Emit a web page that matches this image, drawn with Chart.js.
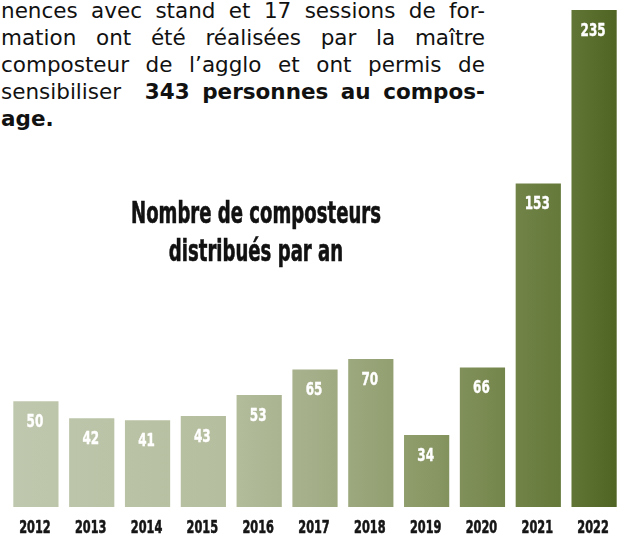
<!DOCTYPE html>
<html>
<head>
<meta charset="utf-8">
<script src="https://cdn.jsdelivr.net/npm/chart.js@4/dist/chart.umd.min.js"></script>
<style>
  html, body { margin:0; padding:0; background:#fff; }
  body { width:619px; height:537px; position:relative; overflow:hidden; }
  #wrap { position:absolute; left:0; top:0; width:625px; height:537px; }
  .para { position:absolute; left:1px; width:484px; font-family:"DejaVu Sans", Verdana, sans-serif; font-size:21.5px; line-height:27px; color:#111; text-align:justify; text-align-last:justify; white-space:nowrap; }
  .title { position:absolute; left:56px; width:400px; text-align:center; font-family:"DejaVu Sans Condensed","Liberation Sans Narrow",sans-serif; font-weight:bold; font-size:30px; line-height:34px; color:#111; transform:scaleX(0.67); transform-origin:50% 50%; -webkit-text-stroke:0.6px #111; }
</style>
</head>
<body>
<div class="para" style="top:-3px">nences avec stand et 17 sessions de for-</div>
<div class="para" style="top:24px">mation ont été réalisées par la maître</div>
<div class="para" style="top:51px">composteur de l’agglo et ont permis de</div>
<div class="para" style="top:78px">sensibiliser &nbsp;<b>343 personnes au compos-</b></div>
<div class="para" style="top:105px; text-align-last:left"><b>age.</b></div>
<div id="wrap"><canvas id="c" width="625" height="537"></canvas></div>
<div class="title" style="top:196px">Nombre de composteurs</div>
<div class="title" style="top:234px">distribués par an</div>
<script>
const years = ["2012","2013","2014","2015","2016","2017","2018","2019","2020","2021","2022"];
const composteurs = [50, 42, 41, 43, 53, 65, 70, 34, 66, 153, 235];

const gradientStops = [
  [0.00, "#bfc8ae"],
  [0.35, "#b5be9e"],
  [0.50, "#a4ae88"],
  [0.65, "#8f9d6c"],
  [0.80, "#76874d"],
  [0.90, "#65793a"],
  [1.00, "#4d6120"]
];
const condFont = '"DejaVu Sans Condensed","Liberation Sans Narrow",sans-serif';

let cachedGrad = null, cachedKey = "";
function barGradient(ctx) {
  const chart = ctx.chart;
  const area = chart.chartArea;
  if (!area) return gradientStops[0][1];
  const key = area.left + "-" + area.right;
  if (!cachedGrad || key !== cachedKey) {
    const g = chart.ctx.createLinearGradient(area.left, 0, area.right, 0);
    gradientStops.forEach(s => g.addColorStop(s[0], s[1]));
    cachedGrad = g; cachedKey = key;
  }
  return cachedGrad;
}

function condensedText(ctx, text, x, y, sx, stroke) {
  ctx.save();
  ctx.translate(x, y);
  ctx.scale(sx, 1);
  if (stroke) { ctx.lineWidth = stroke; ctx.strokeStyle = ctx.fillStyle; ctx.lineJoin = "round"; ctx.strokeText(text, 0, 0); }
  ctx.fillText(text, 0, 0);
  ctx.restore();
}

const labelsPlugin = {
  id: "labelsPlugin",
  afterDatasetsDraw(chart) {
    const ctx = chart.ctx;
    const meta = chart.getDatasetMeta(0);
    const xScale = chart.scales.x;
    ctx.save();
    ctx.textAlign = "center";
    ctx.textBaseline = "middle";
    // values inside bars
    ctx.fillStyle = "#ffffff";
    ctx.font = "bold 18px " + condFont;
    meta.data.forEach((bar, i) => {
      condensedText(ctx, String(chart.data.datasets[0].data[i]), bar.x - 1, bar.y + 21, 0.74, 0.4);
    });
    // category labels under the axis
    ctx.fillStyle = "#151515";
    ctx.font = "bold 18.5px " + condFont;
    chart.data.labels.forEach((lab, i) => {
      const x = xScale.getPixelForValue(i);
      condensedText(ctx, lab, x - 1, chart.chartArea.bottom + 21, 0.68, 0.6);
    });
    ctx.restore();
  }
};

new Chart(document.getElementById("c"), {
  type: "bar",
  data: {
    labels: years,
    datasets: [{
      data: composteurs,
      backgroundColor: barGradient,
      borderWidth: 0,
      barPercentage: 0.81,
      categoryPercentage: 1.0
    }]
  },
  options: {
    responsive: false,
    animation: false,
    layout: { padding: { top: 10, left: 8, right: 3, bottom: 30 } },
    plugins: { legend: { display: false }, tooltip: { enabled: false }, title: { display: false } },
    scales: {
      x: {
        grid: { display: false, drawTicks: false },
        border: { display: false },
        ticks: { display: false }
      },
      y: { display: false, min: 0, max: 235 }
    }
  },
  plugins: [labelsPlugin]
});
</script>
</body>
</html>
